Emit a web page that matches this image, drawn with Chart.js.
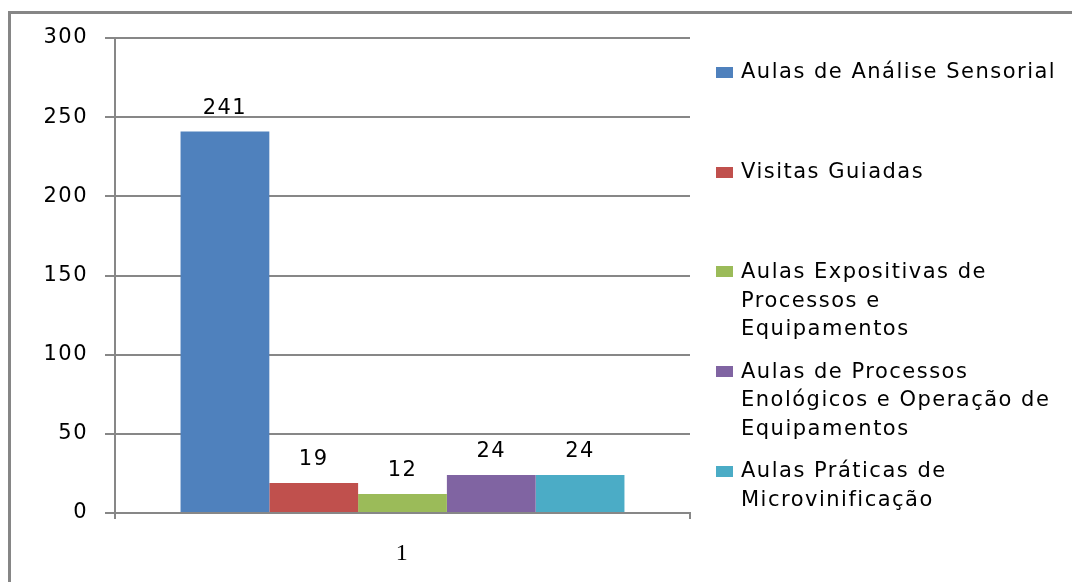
<!DOCTYPE html>
<html>
<head>
<meta charset="utf-8">
<script src="https://cdn.jsdelivr.net/npm/chart.js@4/dist/chart.umd.min.js"></script>
<style>
  html, body { margin: 0; padding: 0; background: #ffffff; overflow: hidden; }
  #wrap { width: 1072px; height: 582px; position: relative; overflow: hidden; }
  canvas { display: block; }
</style>
</head>
<body>
<div id="wrap"><canvas id="c" width="1072" height="582"></canvas></div>
<script>
// ---- data ----
const categories = ['1'];
const seriesLabels = [
  ['Aulas de Análise Sensorial'],
  ['Visitas Guiadas'],
  ['Aulas Expositivas de', 'Processos e', 'Equipamentos'],
  ['Aulas de Processos', 'Enológicos e Operação de', 'Equipamentos'],
  ['Aulas Práticas de', 'Microvinificação']
];
const seriesValues = [[241], [19], [12], [24], [24]];
const seriesColors = ['#4F81BD', '#C0504D', '#9BBB59', '#8064A2', '#4BACC6'];
const yTicks = [0, 50, 100, 150, 200, 250, 300];

const FONT = 'DejaVu Sans';
const GRID = '#878787';

const datasets = seriesValues.map((vals, i) => ({
  label: seriesLabels[i].join(' '),
  data: vals,
  backgroundColor: seriesColors[i],
  borderWidth: 0
}));

const framePlugin = {
  id: 'frame',
  beforeDraw(chart) {
    const ctx = chart.ctx;
    ctx.save();
    ctx.strokeStyle = '#868686';
    ctx.lineWidth = 3;
    ctx.beginPath();
    ctx.moveTo(9.5, 600);
    ctx.lineTo(9.5, 12.5);
    ctx.lineTo(1100, 12.5);
    ctx.stroke();
    ctx.restore();
    ctx.letterSpacing = '1.5px';
  }
};

const valueLabels = {
  id: 'valueLabels',
  afterDatasetsDraw(chart) {
    const ctx = chart.ctx;
    ctx.save();
    ctx.letterSpacing = '1.5px';
    ctx.font = '21px "' + FONT + '"';
    ctx.fillStyle = '#000';
    ctx.textAlign = 'center';
    ctx.textBaseline = 'middle';
    chart.data.datasets.forEach((ds, i) => {
      const meta = chart.getDatasetMeta(i);
      meta.data.forEach((el, j) => {
        ctx.fillText(String(ds.data[j]), el.x, el.y - 23);
      });
    });
    ctx.restore();
  }
};

const sideLegend = {
  id: 'sideLegend',
  afterDraw(chart) {
    const ctx = chart.ctx;
    ctx.save();
    ctx.letterSpacing = '1.5px';
    ctx.font = '21px "' + FONT + '"';
    ctx.fillStyle = '#000';
    ctx.textAlign = 'left';
    ctx.textBaseline = 'middle';
    const x0 = 716, firstY = 73, itemGap = 99.7, lineGap = 28.7;
    seriesLabels.forEach((lines, i) => {
      const cy = firstY + i * itemGap;
      ctx.fillStyle = seriesColors[i];
      ctx.fillRect(x0, Math.round(cy - 6), 17, 11);
      ctx.fillStyle = '#000';
      lines.forEach((t, j) => ctx.fillText(t, x0 + 25, cy + j * lineGap));
    });
    ctx.restore();
  }
};

new Chart(document.getElementById('c'), {
  type: 'bar',
  data: { labels: categories, datasets },
  options: {
    responsive: false,
    animation: false,
    devicePixelRatio: 1,
    layout: { padding: { left: 0, right: 382, top: 38, bottom: 0 } },
    datasets: { bar: { categoryPercentage: 0.772, barPercentage: 1.0 } },
    plugins: { legend: { display: false }, tooltip: { enabled: false } },
    scales: {
      x: {
        grid: { display: true, drawOnChartArea: false, drawTicks: true, tickLength: 6, color: GRID, lineWidth: 2, offset: true },
        border: { display: true, color: GRID, width: 2 },
        ticks: { color: '#000', padding: 20, font: { family: 'Liberation Serif', size: 24 } },
        afterFit(s) { s.height = 69; }
      },
      y: {
        min: 0, max: 300,
        afterBuildTicks(s) { s.ticks = yTicks.map(v => ({ value: v })); },
        grid: { color: GRID, lineWidth: 2, tickLength: 10, drawTicks: true },
        border: { display: true, color: GRID, width: 2 },
        ticks: { color: '#000', padding: 17, font: { family: FONT, size: 21 } },
        afterFit(s) { s.width = 115; }
      }
    }
  },
  plugins: [framePlugin, valueLabels, sideLegend]
});
</script>
</body>
</html>
